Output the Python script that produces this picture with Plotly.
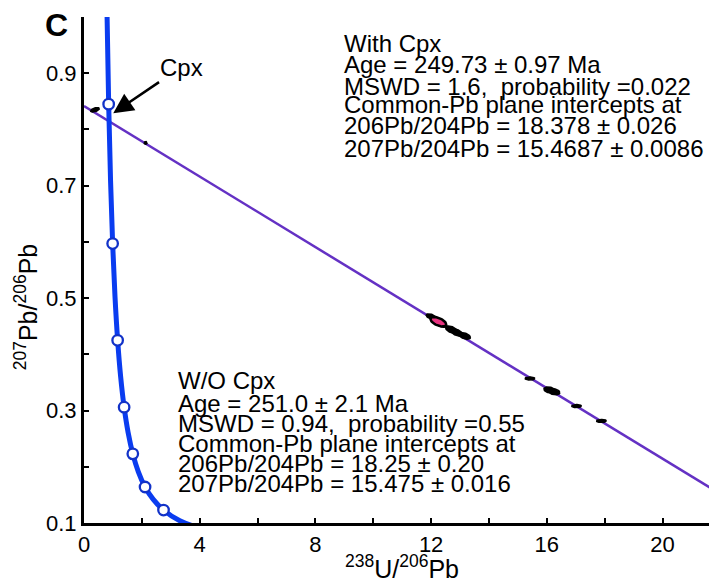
import numpy as np
import plotly.graph_objects as go

# ---- data ----
# Tera-Wasserburg concordia
conc_x = [0.795, 0.853, 0.918, 0.990, 1.071, 1.163, 1.267, 1.387, 1.525, 1.687, 1.879, 2.111, 2.394, 2.749, 3.313, 3.817]
conc_y = [1.009, 0.845, 0.709, 0.597, 0.503, 0.425, 0.360, 0.306, 0.261, 0.223, 0.191, 0.164, 0.142, 0.123, 0.104, 0.094]
# age markers on concordia (2000..5000 Ma)
mark_x = [2.749, 2.111, 1.687, 1.387, 1.163, 0.990, 0.853]
mark_y = [0.123, 0.164, 0.223, 0.306, 0.425, 0.597, 0.845]

# regression (common-Pb) line
line_x = [0.0, 22.2]
line_y = [0.8417, 0.1453]

# analyses: centre, half axes, correlation
spot_x = [0.38, 2.13, 12.00, 12.35, 12.70, 12.88, 13.15, 15.42, 16.10, 16.25, 17.03, 17.89]
spot_y = [0.835, 0.776, 0.467, 0.4545, 0.444, 0.439, 0.433, 0.357, 0.3365, 0.3335, 0.308, 0.2815]
spot_sx = [0.15, 0.05, 0.17, 0.20, 0.20, 0.20, 0.21, 0.17, 0.20, 0.20, 0.17, 0.17]
spot_sy = [0.0040, 0.0025, 0.005, 0.0065, 0.0065, 0.0065, 0.006, 0.0027, 0.0055, 0.0055, 0.0027, 0.0027]
spot_rho = [0.5, 0.0, -0.5, -0.5, -0.5, -0.5, -0.5, 0.0, -0.3, -0.3, 0.0, 0.0]
# highlighted (pink) analysis
pink_x, pink_y, pink_sx, pink_sy, pink_rho = 12.25, 0.458, 0.27, 0.0085, -0.55

x_ticks = [0, 2, 4, 6, 8, 10, 12, 14, 16, 18, 20, 22]
x_ticktext = ["0", "", "4", "", "8", "", "12", "", "16", "", "20", ""]
y_ticks = [0.1, 0.2, 0.3, 0.4, 0.5, 0.6, 0.7, 0.8, 0.9]
y_ticktext = ["0.1", "", "0.3", "", "0.5", "", "0.7", "", "0.9"]

with_cpx = ["With Cpx",
            "Age = 249.73 ± 0.97 Ma",
            "MSWD = 1.6,  probability =0.022",
            "Common-Pb plane intercepts at",
            "206Pb/204Pb = 18.378 ± 0.026",
            "207Pb/204Pb = 15.4687 ± 0.0086"]
wo_cpx = ["W/O Cpx",
          "Age = 251.0 ± 2.1 Ma",
          "MSWD = 0.94,  probability =0.55",
          "Common-Pb plane intercepts at",
          "206Pb/204Pb = 18.25 ± 0.20",
          "207Pb/204Pb = 15.475 ± 0.016"]

FONT = "Liberation Sans, Arial, Helvetica, sans-serif"
OFF = 8                     # page offset of the figure (body margin)
L, T, PW, PH = 76, 9, 641, 506
XMAX = 22.16


def px(xp):                 # page x -> paper x
    return (xp - OFF - L) / PW


def py(yp):                 # page y -> paper y
    return 1 - (yp - OFF - T) / PH


def ellipse(cx, cy, sx, sy, rho, n=60):
    t = np.linspace(0, 2 * np.pi, n)
    ex = cx + sx * np.cos(t)
    ey = cy + sy * (rho * np.cos(t) + np.sqrt(1 - rho ** 2) * np.sin(t))
    return ex, ey


fig = go.Figure()

# empty trace that carries the helper axis used for the y title
fig.add_trace(go.Scatter(x=[], y=[], yaxis="y2", hoverinfo="skip"))

fig.add_trace(go.Scatter(x=line_x, y=line_y, mode="lines",
                         line=dict(color="#6431c4", width=2.5), hoverinfo="skip"))

for cx, cy, sx, sy, r in zip(spot_x, spot_y, spot_sx, spot_sy, spot_rho):
    ex, ey = ellipse(cx, cy, sx, sy, r)
    fig.add_trace(go.Scatter(x=ex, y=ey, mode="lines", fill="toself",
                             fillcolor="black", line=dict(color="black", width=1.5),
                             hoverinfo="skip"))

ex, ey = ellipse(pink_x, pink_y, pink_sx, pink_sy, pink_rho)
fig.add_trace(go.Scatter(x=ex, y=ey, mode="lines", fill="toself",
                         fillcolor="#e8337f", line=dict(color="black", width=2.5),
                         hoverinfo="skip"))

fig.add_trace(go.Scatter(x=conc_x, y=conc_y, mode="lines",
                         line=dict(color="#0a3cf0", width=5, shape="spline"),
                         hoverinfo="skip"))
fig.add_trace(go.Scatter(x=mark_x, y=mark_y, mode="markers",
                         marker=dict(symbol="circle", size=10.5, color="white",
                                     line=dict(color="#1232c8", width=2.3)),
                         hoverinfo="skip"))

annotations = []
ys1 = [43, 64, 86, 104, 125, 148]
for txt, yp in zip(with_cpx, ys1):
    annotations.append(dict(text=txt, xref="paper", yref="paper",
                            x=px(342), y=py(yp),
                            xanchor="left", yanchor="middle", showarrow=False,
                            font=dict(family=FONT, size=24, color="black")))
ys2 = [380, 403, 423, 443, 463, 483]
for txt, yp in zip(wo_cpx, ys2):
    annotations.append(dict(text=txt, xref="paper", yref="paper",
                            x=px(176), y=py(yp),
                            xanchor="left", yanchor="middle", showarrow=False,
                            font=dict(family=FONT, size=24, color="black")))

# Cpx arrow
annotations.append(dict(text="Cpx", x=1.01, y=0.829, xref="x", yref="y",
                        ax=68, ay=-46, showarrow=True, arrowhead=2, arrowsize=1.6,
                        arrowwidth=2.5, arrowcolor="black",
                        font=dict(family=FONT, size=24, color="black")))
# panel letter
annotations.append(dict(text="<b>C</b>", xref="paper", yref="paper",
                        x=px(56), y=py(25), xanchor="center", yanchor="middle",
                        showarrow=False, font=dict(family=FONT, size=32, color="black")))
# x title
annotations.append(dict(text="<sup>238</sup>U/<sup>206</sup>Pb", xref="paper", yref="paper",
                        x=px(402), y=py(584), borderpad=0,
                        xanchor="center", yanchor="bottom", showarrow=False,
                        font=dict(family=FONT, size=25, color="black")))

# helper axis: centred near the 0.5 tick so the rotated title sits there
c = py(307)
fig.update_layout(
    width=717, height=584,
    margin=dict(l=L, r=0, t=T, b=584 - T - PH),
    plot_bgcolor="rgba(0,0,0,0)", paper_bgcolor="white",
    showlegend=False,
    font=dict(family=FONT, size=22, color="black"),
    annotations=annotations,
    xaxis=dict(range=[0, XMAX], showgrid=False, zeroline=False,
               showline=True, linecolor="black", linewidth=3,
               ticks="inside", ticklen=5, tickwidth=2, tickcolor="black",
               tickvals=x_ticks, ticktext=x_ticktext,
               tickfont=dict(family=FONT, size=22)),
    yaxis=dict(range=[0.1, 1.0], showgrid=False, zeroline=False,
               showline=True, linecolor="black", linewidth=3,
               ticks="inside", ticklen=5, tickwidth=2, tickcolor="black",
               tickvals=y_ticks, ticktext=y_ticktext,
               tickfont=dict(family=FONT, size=22)),
    yaxis2=dict(domain=[max(0.0, 2 * c - 1), min(1.0, 2 * c)], anchor="free", position=0,
                showline=False, showgrid=False, zeroline=False, ticks="",
                showticklabels=False, range=[0, 1],
                title=dict(text="<sup>207</sup>Pb/<sup>206</sup>Pb", standoff=38,
                           font=dict(family=FONT, size=25, color="black"))),
)

fig.write_html("out.html")
